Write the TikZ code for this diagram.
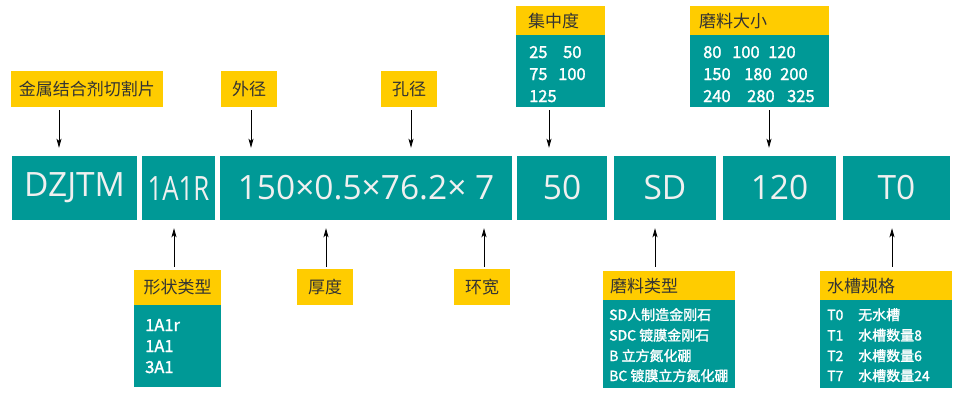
\documentclass[tikz,border=0pt]{standalone}
\usepackage{fontspec}
\usepackage{graphicx}
\setmainfont{Open Sans}
\newfontfamily\cjk{Noto Sans CJK SC}
\newfontfamily\cjkb{Noto Sans CJK SC}[FakeBold=1.5]
\usetikzlibrary{arrows.meta,calc}
\definecolor{tealc}{RGB}{0,153,150}
\definecolor{gold}{RGB}{255,204,0}
\definecolor{labtext}{RGB}{51,51,51}
\definecolor{maintext}{RGB}{240,240,240}
\begin{document}
\begin{tikzpicture}[x=1pt,y=-1pt,
  mainbox/.style={fill=tealc,text=maintext,inner sep=0,minimum height=64,font=\fontsize{33.5}{40}\selectfont},
  lab/.style={fill=gold,text=labtext,inner sep=0,font=\cjk\fontsize{17}{20}\selectfont},
  panel/.style={fill=tealc,inner sep=0},
  ttl/.style={text=labtext,inner sep=0,anchor=west,font=\cjk\fontsize{17}{20}\selectfont},
  numtxt/.style={text=white,inner sep=0,anchor=base west,font=\cjkb\fontsize{16.5}{20}\selectfont},
  smalltxt/.style={text=white,inner sep=0,anchor=base west,font=\cjkb\fontsize{14}{18}\selectfont},
  arr/.style={draw=black,line width=0.9pt,-{Stealth[length=9pt,width=5pt,inset=2pt]}}
]
\useasboundingbox (0,0) rectangle (962,400);

% main row
\node[mainbox,minimum width=125] (dz)   at (74.5,188) {DZJTM};
\node[mainbox,minimum width=73]  (sh)   at (178.5,188) {\scalebox{0.77}[1]{1A1R}};
\node[mainbox,minimum width=292] (dim)  at (366,188) {150×0.5×76.2× 7};
\node[mainbox,minimum width=90]  (conc) at (562,188) {50};
\node[mainbox,minimum width=102] (abr)  at (665,188) {SD};
\node[mainbox,minimum width=113] (grit) at (779.5,188) {120};
\node[mainbox,minimum width=107] (wat)  at (896.5,188) {T0};

% top labels
\node[lab,minimum width=152,minimum height=36] (l1) at (87,89) {金属结合剂切割片};
\node[lab,minimum width=56,minimum height=36]  (l2) at (249,89) {外径};
\node[lab,minimum width=56,minimum height=36]  (l3) at (409,89) {孔径};

% concentration panel
\node[lab,minimum width=89,minimum height=29] (cy) at (560.5,20.5) {};
\node[panel,minimum width=89,minimum height=72] (cp) at (560.5,71) {};
\node[ttl] (ct) at (528,21) {集中度};
\node[numtxt] (c1) at (529,58) {\makebox[34pt][l]{25}50};
\node[numtxt] (c2) at (529,80) {\makebox[29pt][l]{75}100};
\node[numtxt] (c3) at (529,102) {125};

% grit panel
\node[lab,minimum width=139,minimum height=29] (gy) at (759.5,20.5) {};
\node[panel,minimum width=139,minimum height=72] (gp) at (759.5,71) {};
\node[ttl] (gt) at (699,21) {磨料大小};
\node[numtxt] (g1) at (703,58) {\makebox[29pt][l]{80}\makebox[36pt][l]{100}120};
\node[numtxt] (g2) at (703,80) {\makebox[41pt][l]{150}\makebox[36pt][l]{180}200};
\node[numtxt] (g3) at (703,102) {\makebox[44pt][l]{240}\makebox[40pt][l]{280}325};

% bottom labels
\node[lab,minimum width=87,minimum height=35] (sy) at (177.5,287.5) {形状类型};
\node[panel,minimum width=87,minimum height=82] (sp) at (177.5,346) {};
\node[numtxt] (s1) at (145,331) {1A1r};
\node[numtxt] (s2) at (145,352) {1A1};
\node[numtxt] (s3) at (145,373) {3A1};

\node[lab,minimum width=56,minimum height=36] (th) at (325,287) {厚度};
\node[lab,minimum width=56,minimum height=36] (rw) at (482,287) {环宽};

% abrasive type panel
\node[lab,minimum width=132,minimum height=29] (ay) at (669,285.5) {};
\node[panel,minimum width=132,minimum height=88] (ap) at (669,344) {};
\node[ttl] (at) at (610,286) {磨料类型};
\node[smalltxt] (a1t) at (609,320) {SD人制造金刚石};
\node[smalltxt] (a2t) at (609,340.5) {SDC 镀膜金刚石};
\node[smalltxt] (a3t) at (609,361) {B 立方氮化硼};
\node[smalltxt] (a4t) at (609,381) {BC 镀膜立方氮化硼};

% water slot panel
\node[lab,minimum width=132,minimum height=29] (wy) at (886,285.5) {};
\node[panel,minimum width=132,minimum height=88] (wp) at (886,344) {};
\node[ttl] (wt) at (827,286) {水槽规格};
\node[smalltxt] (w1) at (827,320) {\makebox[31pt][l]{T0}无水槽};
\node[smalltxt] (w2) at (827,340.5) {\makebox[31pt][l]{T1}水槽数量8};
\node[smalltxt] (w3) at (827,361) {\makebox[31pt][l]{T2}水槽数量6};
\node[smalltxt] (w4) at (827,381) {\makebox[31pt][l]{T7}水槽数量24};

% arrow x positions
\coordinate (xa1) at (59,0);
\coordinate (xa2) at (251,0);
\coordinate (xa3) at (411,0);
\coordinate (xa4) at (549,0);
\coordinate (xa5) at (769,0);
\coordinate (xb1) at (174,0);
\coordinate (xb2) at (326,0);
\coordinate (xb3) at (484,0);
\coordinate (xb4) at (655,0);
\coordinate (xb5) at (892,0);

% top arrows
\draw[arr,shorten <=3pt,shorten >=8pt] (l1.south -| xa1) -- (dz.north -| xa1);
\draw[arr,shorten <=3pt,shorten >=8pt] (l2.south -| xa2) -- (dim.north -| xa2);
\draw[arr,shorten <=3pt,shorten >=8pt] (l3.south -| xa3) -- (dim.north -| xa3);
\draw[arr,shorten <=3pt,shorten >=8pt] (cp.south -| xa4) -- (conc.north -| xa4);
\draw[arr,shorten <=3pt,shorten >=8pt] (gp.south -| xa5) -- (grit.north -| xa5);

% bottom arrows
\draw[arr,shorten <=3pt,shorten >=8pt] (sy.north -| xb1) -- (sh.south -| xb1);
\draw[arr,shorten <=2pt,shorten >=8pt] (th.north -| xb2) -- (dim.south -| xb2);
\draw[arr,shorten <=2pt,shorten >=8pt] (rw.north -| xb3) -- (dim.south -| xb3);
\draw[arr,shorten <=4pt,shorten >=8pt] (ay.north -| xb4) -- (abr.south -| xb4);
\draw[arr,shorten <=4pt,shorten >=8pt] (wy.north -| xb5) -- (wat.south -| xb5);
\end{tikzpicture}
\end{document}
